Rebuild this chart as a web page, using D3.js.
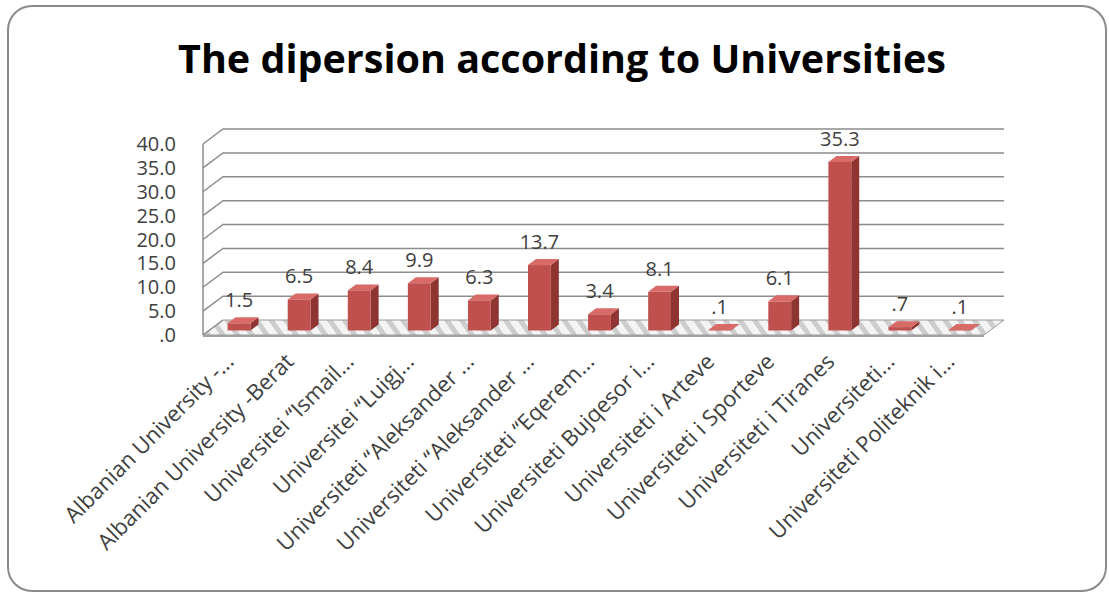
<!DOCTYPE html>
<html>
<head>
<meta charset="utf-8">
<script src="https://cdn.jsdelivr.net/npm/d3@7"></script>
<style>
  body { margin: 0; background: #fff; }
  text { font-family: "Open Sans", sans-serif; }
</style>
</head>
<body>
<div id="chart"></div>
<script>
// data
var universities = ["Albanian University -...", "Albanian University -Berat", "Universitei \u201cIsmail...",
  "Universitei \u201cLuigj...", "Universiteti \u201cAleksander ...", "Universiteti \u201cAleksander ...",
  "Universiteti \u201cEqerem...", "Universiteti Bujqesor i...", "Universiteti i Arteve",
  "Universiteti i Sporteve", "Universiteti i Tiranes", "Universiteti...", "Universiteti Politeknik i..."]
var shares = [1.5, 6.5, 8.4, 9.9, 6.3, 13.7, 3.4, 8.1, 0.1, 6.1, 35.3, 0.7, 0.1]
var yTicks = [0, 5, 10, 15, 20, 25, 30, 35, 40]
var chartTitle = "The dipersion according to Universities"

var W = 1109, H = 595
var margin = {left: 203, right: 125, top: 144, bottom: 260}
var depthX = 20, depthY = -15   // offset of the back wall
var zFront = 0.3, zBack = 0.7   // bar depth inside the floor

var svg = d3.select("#chart").append("svg")
  .attr("width", W).attr("height", H)

// frame
svg.append("rect")
  .attr("x", 8).attr("y", 6).attr("width", 1098).attr("height", 585)
  .attr("rx", 24).attr("fill", "#fff")
  .attr("stroke", "#8a8a8a").attr("stroke-width", 2)

svg.append("text")
  .attr("x", 562).attr("y", 73)
  .attr("text-anchor", "middle")
  .attr("font-size", 39.5).attr("font-weight", "bold")
  .attr("fill", "#000")
  .text(chartTitle)

// two categories share the same truncated name, so the band scale works on indexes
x = d3.scaleBand()
  .domain(d3.range(universities.length))
  .range([margin.left, W - margin.right])
  .paddingInner(0.62).paddingOuter(0.31)
y = d3.scaleLinear()
  .domain([0, 40])
  .range([H - margin.bottom, margin.top])

var x0 = margin.left, x1 = W - margin.right

// hatch for the floor
var defs = svg.append("defs")
var pat = defs.append("pattern")
  .attr("id", "hatch").attr("patternUnits", "userSpaceOnUse")
  .attr("width", 12).attr("height", 12)
  .attr("patternTransform", "rotate(-35)")
pat.append("rect").attr("width", 12).attr("height", 12).attr("fill", "#f4f4f4")
pat.append("rect").attr("width", 5).attr("height", 12).attr("fill", "#cdcdcd")

// floor
svg.append("polygon")
  .attr("points", [[x0, y(0)], [x1, y(0)], [x1 + depthX, y(0) + depthY], [x0 + depthX, y(0) + depthY]].join(" "))
  .attr("fill", "url(#hatch)")
  .attr("stroke", "#9a9a9a").attr("stroke-width", 1)
svg.append("rect")
  .attr("x", x0).attr("y", y(0)).attr("width", x1 - x0).attr("height", 2)
  .attr("fill", "#a0a0a0")

// gridlines: side wall diagonal + back wall line
var grid = svg.append("g").attr("stroke", "#8c8c8c").attr("stroke-width", 1.5).attr("fill", "none")
grid.selectAll("path")
  .data(yTicks.slice(1))
  .join("path")
  .attr("d", d => "M" + x0 + "," + y(d) + "L" + (x0 + depthX) + "," + (y(d) + depthY) + "L" + (x1 + depthX) + "," + (y(d) + depthY))
grid.append("path")
  .attr("d", "M" + x0 + "," + y(0) + "L" + (x0 + depthX) + "," + (y(0) + depthY))
grid.append("line")
  .attr("x1", x0).attr("x2", x0).attr("y1", y(40)).attr("y2", y(0))

// y axis labels
svg.append("g").selectAll("text")
  .data(yTicks)
  .join("text")
  .attr("x", 176).attr("y", d => y(d))
  .attr("dy", "0.35em")
  .attr("text-anchor", "end")
  .attr("font-size", 20).attr("fill", "#404040")
  .text(d => d === 0 ? ".0" : d3.format(".1f")(d))

// bars
var bw = x.bandwidth()
var bars = svg.append("g").selectAll("g")
  .data(shares.map((v, i) => ({i: i, v: v})))
  .join("g")

function pt(px, val, z) { return [px + z * depthX, y(val) + z * depthY] }

bars.append("polygon")  // side
  .attr("points", d => {
    var r = x(d.i) + bw
    return [pt(r, d.v, zFront), pt(r, d.v, zBack), pt(r, 0, zBack), pt(r, 0, zFront)].join(" ")
  })
  .attr("fill", "#8e3431")
bars.append("polygon")  // top
  .attr("points", d => {
    var l = x(d.i), r = l + bw
    return [pt(l, d.v, zFront), pt(r, d.v, zFront), pt(r, d.v, zBack), pt(l, d.v, zBack)].join(" ")
  })
  .attr("fill", "#d86b68")
bars.append("rect")  // front
  .attr("x", d => x(d.i) + zFront * depthX)
  .attr("y", d => y(d.v) + zFront * depthY)
  .attr("width", bw)
  .attr("height", d => y(0) - y(d.v))
  .attr("fill", "#c0504d")

// value labels
var fmt = v => d3.format(".1f")(v).replace(/^0\./, ".")
bars.append("text")
  .attr("x", d => x(d.i) + zFront * depthX + bw / 2)
  .attr("y", d => y(d.v) + zFront * depthY - 16)
  .attr("text-anchor", "middle")
  .attr("font-size", 20).attr("fill", "#404040")
  .text(d => fmt(d.v))

// category labels
svg.append("g").selectAll("text")
  .data(universities)
  .join("text")
  .attr("transform", (d, i) => "translate(" + (x(i) + bw / 2 + zFront * depthX - 4) + "," + (y(0) + 28) + ") rotate(-45)")
  .attr("text-anchor", "end")
  .attr("font-size", 22).attr("fill", "#404040")
  .text(d => d)
</script>
</body>
</html>
